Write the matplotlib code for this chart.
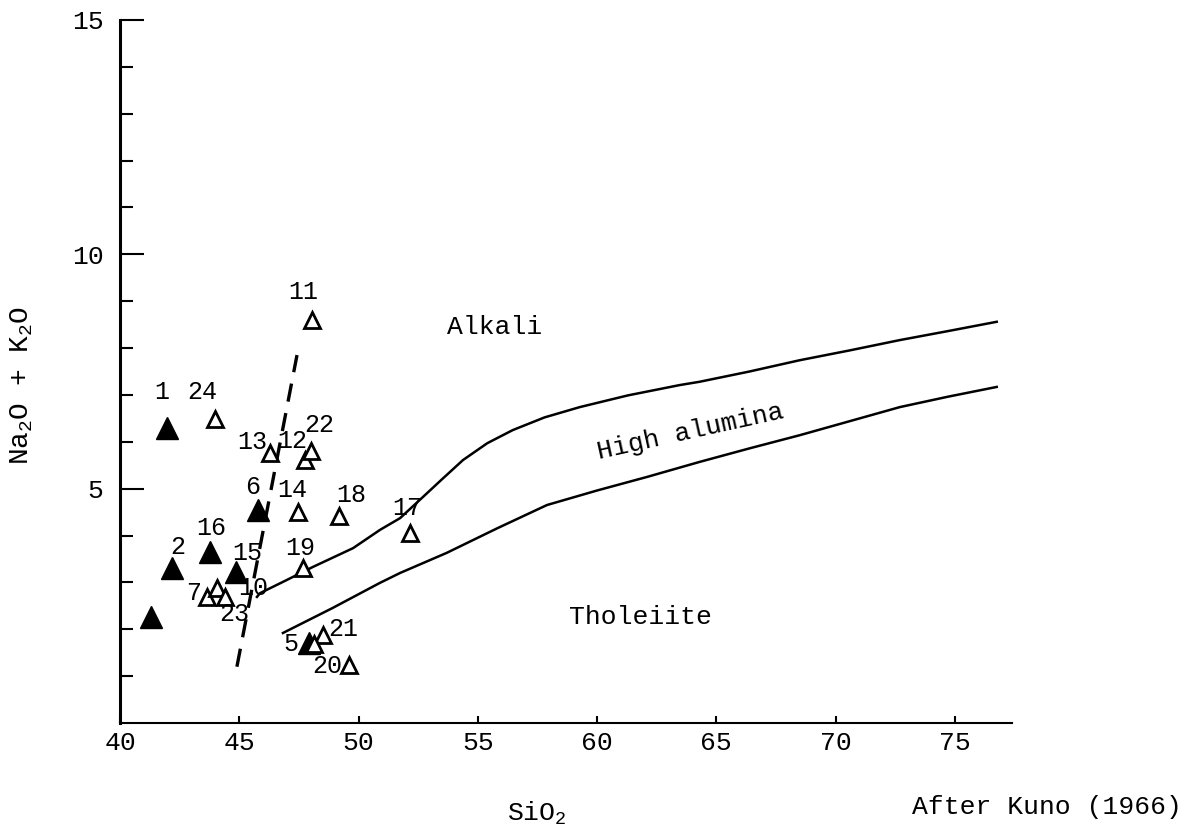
import matplotlib
matplotlib.use('Agg')
import matplotlib.pyplot as plt

# Kuno (1966) alkali / high-alumina / tholeiite diagram
plt.rcParams['font.family'] = ['Liberation Mono', 'DejaVu Sans Mono']
plt.rcParams['mathtext.fontset'] = 'custom'
plt.rcParams['mathtext.rm'] = 'Liberation Mono'
plt.rcParams['mathtext.it'] = 'Liberation Mono'

# samples (filled triangles)
filled_lab = ['1', '6', '16', '2', '15', '', '5']
filled_x = [41.97, 45.78, 43.77, 42.18, 44.86, 41.30, 47.92]
filled_y = [6.29, 4.54, 3.65, 3.31, 3.22, 2.26, 1.71]

# samples (open triangles)
open_lab = ['24', '11', '13', '12', '22', '14', '18', '19', '7', '10', '23', '21', '20', '17', '']
open_x = [43.98, 48.05, 46.29, 47.75, 48.00, 47.46, 49.18, 47.67, 43.65, 44.07, 44.40, 48.50, 49.60, 52.15, 48.15]
open_y = [6.49, 8.60, 5.76, 5.61, 5.80, 4.50, 4.42, 3.31, 2.69, 2.88, 2.69, 1.88, 1.24, 4.05, 1.68]

# boundary curves
upper_x = [45.74, 45.87, 46.83, 48.09, 49.77, 50.90, 51.74, 52.57, 53.50, 54.38, 55.40, 56.47,
           57.80, 59.28, 61.30, 63.47, 64.30, 66.40, 68.50, 70.60, 72.70, 74.70, 76.76]
upper_y = [2.69, 2.77, 3.01, 3.33, 3.73, 4.12, 4.37, 4.76, 5.20, 5.61, 5.97, 6.25,
           6.52, 6.74, 6.99, 7.21, 7.28, 7.50, 7.74, 7.95, 8.17, 8.36, 8.56]
lower_x = [46.83, 48.90, 50.90, 51.74, 53.70, 55.80, 57.90, 60.00, 62.10, 64.30, 66.40,
           68.50, 70.60, 72.70, 74.70, 76.76]
lower_y = [1.92, 2.45, 2.99, 3.20, 3.63, 4.15, 4.65, 4.96, 5.25, 5.57, 5.86,
           6.14, 6.44, 6.74, 6.96, 7.17]

dash_x = [44.9, 47.42]
dash_y = [1.2, 7.85]

# label offsets in points
offsets = {
    '1': (-4, 26), '6': (-4, 17), '16': (1, 17), '2': (4, 15), '15': (8, 14), '5': (-13, -1),
    '24': (-9, 19), '11': (-6, 20), '13': (-13, 8), '12': (-9, 14), '22': (6, 19),
    '14': (-4, 16), '18': (9, 15), '19': (-2, 14), '7': (-10, 3), '10': (26, 0),
    '23': (7, -12), '21': (15, 4), '20': (-16, -1), '17': (-2, 18),
}

fig = plt.figure(figsize=(11.91, 8.39), dpi=100)
ax = fig.add_axes([0.1008, 0.1383, 0.7489, 0.8379])

ax.plot(upper_x, upper_y, color='black', lw=1.8, solid_joinstyle='round')
ax.plot(lower_x, lower_y, color='black', lw=1.8, solid_joinstyle='round')
ax.plot(dash_x, dash_y, color='black', lw=2.4, dashes=(5.5, 3.5))

ax.plot(filled_x, filled_y, '^', ms=16, color='black', mfc='black', ls='none')
ax.plot(open_x, open_y, '^', ms=12, color='black', mfc='white', mew=2, ls='none')

for labs, xs, ys in [(filled_lab, filled_x, filled_y), (open_lab, open_x, open_y)]:
    for lab, x, y in zip(labs, xs, ys):
        if lab == '':
            continue
        ax.annotate(lab, (x, y), xytext=offsets[lab], textcoords='offset points',
                    ha='center', va='center', fontsize=18)

ax.text(55.7, 8.45, 'Alkali', fontsize=19, ha='center', va='center')
ax.text(63.9, 6.21, 'High alumina', fontsize=19, ha='center', va='center', rotation=12.5)
ax.text(61.84, 2.26, 'Tholeiite', fontsize=19, ha='center', va='center')

ax.set_xlim(40, 77.4)
ax.set_ylim(0, 15)
ax.set_xticks([40, 45, 50, 55, 60, 65, 70, 75])
ax.set_yticks([5, 10, 15])
ax.set_yticks(range(1, 15), minor=True)
ax.tick_params(axis='x', direction='in', length=5, width=1.5, labelsize=19, pad=6)
ax.tick_params(axis='y', which='major', direction='in', length=17, width=1.5, labelsize=19, pad=12)
ax.tick_params(axis='y', which='minor', direction='in', length=9, width=1.5)

for s in ['top', 'right']:
    ax.spines[s].set_visible(False)
ax.spines['left'].set_linewidth(2.2)
ax.spines['bottom'].set_linewidth(1.5)

ax.set_ylabel('Na$_2$O + K$_2$O', fontsize=20)
ax.yaxis.set_label_coords(-0.095, 0.48)
ax.set_xlabel('SiO$_2$', fontsize=19)
ax.xaxis.set_label_coords(0.467, -0.11)

fig.text(0.766, 0.038, 'After Kuno (1966)', fontsize=19, ha='left', va='center')

fig.savefig('out.png', dpi=100)
